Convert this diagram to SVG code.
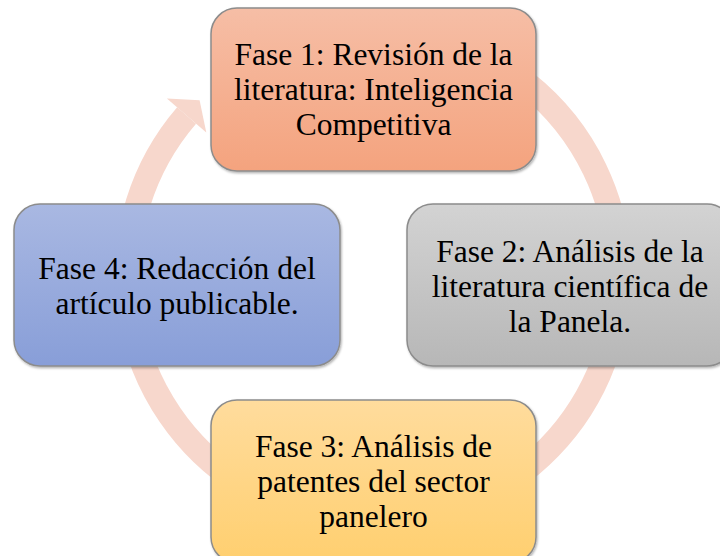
<svg xmlns="http://www.w3.org/2000/svg" width="720" height="556" viewBox="0 0 720 556">
  <style>
    .box { stroke: #8c8c8c; stroke-width: 1.5; }
    .lbl { font-family: 'Liberation Serif', Tinos, 'Times New Roman', 'DejaVu Serif', serif; font-size: 31.5px; fill: #000; text-anchor: middle; }
    .ring { fill: none; stroke: #F7D7CC; stroke-width: 25; }
    .head { fill: #F7D7CC; }
  </style>
  <defs>
    <linearGradient id="g1" x1="0" y1="0" x2="0" y2="1">
      <stop offset="0" stop-color="#F6BEA6"/>
      <stop offset="1" stop-color="#F4A37E"/>
    </linearGradient>
    <linearGradient id="g2" x1="0" y1="0" x2="0" y2="1">
      <stop offset="0" stop-color="#D3D3D3"/>
      <stop offset="1" stop-color="#B7B7B7"/>
    </linearGradient>
    <linearGradient id="g3" x1="0" y1="0" x2="0" y2="1">
      <stop offset="0" stop-color="#FFDC9D"/>
      <stop offset="1" stop-color="#FFCF6F"/>
    </linearGradient>
    <linearGradient id="g4" x1="0" y1="0" x2="0" y2="1">
      <stop offset="0" stop-color="#A9B8E2"/>
      <stop offset="1" stop-color="#889ED8"/>
    </linearGradient>
    <filter id="sh" x="-5%" y="-5%" width="110%" height="115%">
      <feDropShadow dx="1" dy="1.5" stdDeviation="1" flood-color="#000" flood-opacity="0.3"/>
    </filter>
  </defs>

  <g id="connectors">
    <path class="ring" d="M 436.7 38.4 A 246 246 0 1 1 186.6 115.5"/>
    <polygon class="head" points="166.9,98.5 199.6,100.3 206.3,132.5"/>
  </g>

  <g id="fase1">
    <rect class="box" x="211" y="8" width="325" height="163" rx="26" fill="url(#g1)" filter="url(#sh)"/>
    <text class="lbl" x="373.5" y="65">Fase 1: Revisión de la</text>
    <text class="lbl" x="373.5" y="100">literatura: Inteligencia</text>
    <text class="lbl" x="373.5" y="135">Competitiva</text>
  </g>

  <g id="fase2">
    <rect class="box" x="407" y="204" width="326" height="162" rx="26" fill="url(#g2)" filter="url(#sh)"/>
    <text class="lbl" x="570" y="262">Fase 2: Análisis de la</text>
    <text class="lbl" x="570" y="297">literatura científica de</text>
    <text class="lbl" x="570" y="332">la Panela.</text>
  </g>

  <g id="fase3">
    <rect class="box" x="211" y="400" width="325" height="163" rx="26" fill="url(#g3)" filter="url(#sh)"/>
    <text class="lbl" x="373.5" y="457">Fase 3: Análisis de</text>
    <text class="lbl" x="373.5" y="492">patentes del sector</text>
    <text class="lbl" x="373.5" y="527">panelero</text>
  </g>

  <g id="fase4">
    <rect class="box" x="14" y="204" width="326" height="162" rx="26" fill="url(#g4)" filter="url(#sh)"/>
    <text class="lbl" x="177" y="279">Fase 4: Redacción del</text>
    <text class="lbl" x="177" y="314">artículo publicable.</text>
  </g>
</svg>
